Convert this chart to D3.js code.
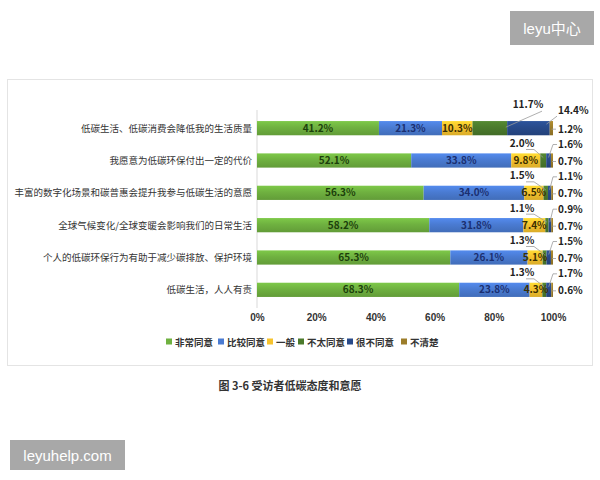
<!DOCTYPE html>
<html lang="zh">
<head>
<meta charset="UTF-8">
<title>受访者低碳态度和意愿</title>
<script src="https://d3js.org/d3.v7.min.js"></script>
<style>
  body { margin: 0; background: #fff; }
  svg { font-family: "Noto Sans CJK SC", "Noto Sans", sans-serif; }
</style>
</head>
<body>
<script>
// data
const statements = [
  '低碳生活、低碳消费会降低我的生活质量',
  '我愿意为低碳环保付出一定的代价',
  '丰富的数字化场景和碳普惠会提升我参与低碳生活的意愿',
  '全球气候变化/全球变暖会影响我们的日常生活',
  '个人的低碳环保行为有助于减少碳排放、保护环境',
  '低碳生活，人人有责'
];
const levels = ['非常同意', '比较同意', '一般', '不太同意', '很不同意', '不清楚'];
const strongAgree  = [41.2, 52.1, 56.3, 58.2, 65.3, 68.3];
const agree        = [21.3, 33.8, 34.0, 31.8, 26.1, 23.8];
const neutral      = [10.3,  9.8,  6.5,  7.4,  5.1,  4.3];
const disagree     = [11.7,  2.0,  1.5,  1.1,  1.3,  1.3];
const strongDis    = [14.4,  1.6,  1.1,  0.9,  1.5,  1.7];
const unsure       = [ 1.2,  0.7,  0.7,  0.7,  0.7,  0.6];
const xTicks = [0, 20, 40, 60, 80, 100];
const caption = '图 3-6 受访者低碳态度和意愿';

const colors = ['#6fb140', '#4a7bd2', '#f6c32e', '#4b7a2c', '#284a8a', '#9c7d2a'];
const textColors = ['#1c3f0b', '#1b2f70', '#3b2f00'];

const rows = statements.map((s, i) => ({
  name: s,
  values: [strongAgree[i], agree[i], neutral[i], disagree[i], strongDis[i], unsure[i]]
}));

const W = 600, H = 480;
const svg = d3.select('body').append('svg').attr('width', W).attr('height', H);

// gradients for slightly raised bars
const defs = svg.append('defs');
colors.forEach((c, i) => {
  const g = defs.append('linearGradient').attr('id', 'g' + i)
    .attr('x1', 0).attr('y1', 0).attr('x2', 0).attr('y2', 1);
  g.append('stop').attr('offset', '0%').attr('stop-color', d3.color(c).brighter(0.35));
  g.append('stop').attr('offset', '45%').attr('stop-color', c);
  g.append('stop').attr('offset', '100%').attr('stop-color', d3.color(c).darker(0.35));
});

// frame
svg.append('rect')
  .attr('x', 7.5).attr('y', 79.5).attr('width', 585).attr('height', 286)
  .attr('fill', 'none').attr('stroke', '#e4e4e4');

const x = d3.scaleLinear().domain([0, 100]).range([257, 553]);
const y = d3.scaleBand().domain(statements).range([112, 306]).paddingInner(0.56).paddingOuter(0.28);

// vertical axis line
svg.append('line')
  .attr('x1', 257).attr('x2', 257).attr('y1', 110).attr('y2', 308)
  .attr('stroke', '#d9d9d9');

// x axis
const xAxis = d3.axisBottom(x).tickValues(xTicks).tickFormat(d => d + '%').tickSize(0).tickPadding(0);
const gx = svg.append('g').attr('transform', 'translate(0,314)').call(xAxis);
gx.select('.domain').remove();
gx.selectAll('text').attr('font-size', 10).attr('font-weight', 'bold').attr('fill', '#333');

// category labels
svg.selectAll('.cat').data(statements).enter().append('text')
  .attr('x', 252)
  .attr('y', d => y(d) + y.bandwidth() / 2 + 3.5)
  .attr('text-anchor', 'end')
  .attr('font-size', 9.5)
  .attr('fill', '#333')
  .text(d => d);

// stacked segments
const segs = [];
rows.forEach(r => {
  let acc = 0;
  r.values.forEach((v, k) => {
    segs.push({ row: r.name, k, v, x0: acc, x1: acc + v });
    acc += v;
  });
});

svg.selectAll('.seg').data(segs).enter().append('rect')
  .attr('x', d => x(d.x0))
  .attr('y', d => y(d.row))
  .attr('width', d => Math.max(0, x(Math.min(d.x1, 100)) - x(d.x0)))
  .attr('height', y.bandwidth())
  .attr('fill', d => 'url(#g' + d.k + ')');

// inside labels for first three levels
svg.selectAll('.in').data(segs.filter(d => d.k < 3)).enter().append('text')
  .attr('x', d => (x(d.x0) + x(d.x1)) / 2)
  .attr('y', d => y(d.row) + y.bandwidth() / 2 + 3.5)
  .attr('text-anchor', 'middle')
  .attr('font-size', 10)
  .attr('font-weight', 'bold')
  .attr('fill', d => textColors[d.k])
  .text(d => d.v.toFixed(1) + '%');

// outside labels with leader lines
const lead = svg.append('g').attr('stroke', '#9a9a9a').attr('fill', 'none').attr('stroke-width', 0.8);
const out = svg.append('g').attr('font-size', 10).attr('font-weight', 'bold').attr('fill', '#222');
segs.filter(d => d.k >= 3).forEach(d => {
  const cy = y(d.row) + y.bandwidth() / 2;
  const mid = (x(d.x0) + x(d.x1)) / 2;
  const label = d.v.toFixed(1) + '%';
  if (d.k === 3) {
    const wide = d.v > 5;
    const ly = cy - (wide ? 24 : 17);
    const lx = wide ? 528 : 522;
    out.append('text').attr('x', lx).attr('y', ly + 3.5).attr('text-anchor', 'middle').text(label);
    lead.append('polyline')
      .attr('points', wide
        ? [[lx + 14, ly + 7], [mid + 16, cy - 1]].join(' ')
        : [[lx + 4, ly + 6], [lx + 12, ly + 6], [mid, cy - 3]].join(' '));
  } else if (d.k === 4) {
    const wide = d.v > 5;
    const ly = cy - (wide ? 18 : 16);
    out.append('text').attr('x', 558).attr('y', ly + 3.5).text(label);
    lead.append('polyline')
      .attr('points', wide
        ? [[557, ly + 6], [mid + 18, cy - 4]].join(' ')
        : [[557, ly], [553, ly], [mid, cy - 3]].join(' '));
  } else {
    out.append('text').attr('x', 558).attr('y', cy + 4.5).text(label);
    lead.append('line').attr('x1', mid).attr('x2', 556).attr('y1', cy + 1).attr('y2', cy + 1);
  }
});

// legend
const legendX = [166, 218, 267, 298, 347, 401];
const lg = svg.append('g').selectAll('g').data(levels).enter().append('g')
  .attr('transform', (d, i) => `translate(${legendX[i]},342)`);
lg.append('rect').attr('x', 0).attr('y', -3.5).attr('width', 6).attr('height', 6)
  .attr('fill', (d, i) => colors[i]);
lg.append('text').attr('x', 9).attr('y', 3.5)
  .attr('font-size', 9.5).attr('font-weight', 'bold').attr('fill', '#333')
  .text(d => d);

// caption
svg.append('text')
  .attr('x', 290).attr('y', 390)
  .attr('text-anchor', 'middle')
  .attr('font-size', 11).attr('font-weight', 'bold').attr('fill', '#333')
  .text(caption);

// watermarks
const marks = [
  { t: 'leyu中心', x: 510, y: 11, w: 84, h: 34 },
  { t: 'leyuhelp.com', x: 10, y: 440, w: 115, h: 30 }
];
marks.forEach(m => {
  svg.append('rect').attr('x', m.x).attr('y', m.y).attr('width', m.w).attr('height', m.h).attr('fill', '#a8a8a8');
  svg.append('text').attr('x', m.x + m.w / 2).attr('y', m.y + m.h / 2 + 5.5)
    .attr('text-anchor', 'middle').attr('font-size', 15).attr('fill', '#fff')
    .attr('font-family', 'Liberation Sans, Noto Sans CJK SC, sans-serif')
    .text(m.t);
});
</script>
</body>
</html>
